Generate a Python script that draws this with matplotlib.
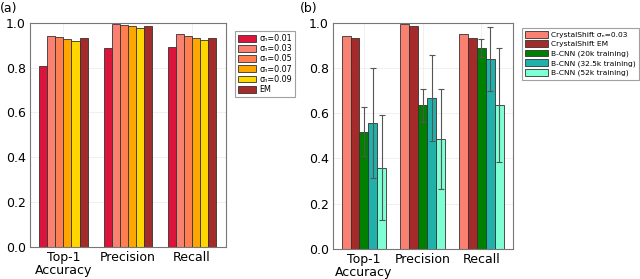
import numpy as np
import matplotlib
matplotlib.use("Agg")
import matplotlib.pyplot as plt

metrics = ["Top-1\nAccuracy", "Precision", "Recall"]

# Panel (a)
a_labels = ["σₙ=0.01", "σₙ=0.03", "σₙ=0.05", "σₙ=0.07", "σₙ=0.09", "EM"]
a_colors = ["#DC143C", "#FA8072", "#FF7F50", "#FFA500", "#FFD700", "#A52A2A"]
a_s001 = [0.806, 0.888, 0.893]
a_s003 = [0.943, 0.993, 0.951]
a_s005 = [0.936, 0.990, 0.940]
a_s007 = [0.928, 0.984, 0.933]
a_s009 = [0.921, 0.978, 0.925]
a_em = [0.931, 0.985, 0.934]
a_series = [a_s001, a_s003, a_s005, a_s007, a_s009, a_em]

# Panel (b)
b_labels = ["CrystalShift σₙ=0.03", "CrystalShift EM",
            "B-CNN (20k training)", "B-CNN (32.5k training)", "B-CNN (52k training)"]
b_colors = ["#FA8072", "#A52A2A", "#008000", "#20B2AA", "#7FFFD4"]
b_cs = [0.944, 0.993, 0.951]
b_em = [0.931, 0.985, 0.935]
b_20k = [0.519, 0.635, 0.887]
b_20k_err = [0.108, 0.073, 0.040]
b_32k = [0.557, 0.668, 0.841]
b_32k_err = [0.244, 0.190, 0.142]
b_52k = [0.360, 0.485, 0.637]
b_52k_err = [0.232, 0.221, 0.254]
b_series = [b_cs, b_em, b_20k, b_32k, b_52k]
b_errs = [None, None, b_20k_err, b_32k_err, b_52k_err]

fig = plt.figure(figsize=(6.4, 2.79), dpi=100)
ax1 = fig.add_axes([0.047, 0.115, 0.306, 0.803])
ax2 = fig.add_axes([0.520, 0.108, 0.281, 0.810])

def style(ax, xl):
    ax.set_ylim(0, 1.0)
    ax.set_xlim(*xl)
    ax.set_yticks([0, 0.2, 0.4, 0.6, 0.8, 1.0])
    ax.set_yticklabels(["0.0", "0.2", "0.4", "0.6", "0.8", "1.0"])
    ax.set_xticks(range(len(metrics)))
    ax.set_xticklabels(metrics, linespacing=1.0)
    ax.tick_params(length=0, labelsize=9, pad=3)
    ax.grid(True, color="#eeeeee", lw=0.6)
    ax.set_axisbelow(True)
    for s in ax.spines.values():
        s.set_color("#777777")
        s.set_linewidth(0.8)

x = np.arange(len(metrics))
n = len(a_series)
w = 0.75 / n
for i, (vals, c, lab) in enumerate(zip(a_series, a_colors, a_labels)):
    ax1.bar(x + (i - (n - 1) / 2) * w, vals, w, color=c, edgecolor="#333333",
            linewidth=0.6, label=lab)
style(ax1, (-0.52, 2.53))
leg1 = ax1.legend(loc="upper left", bbox_to_anchor=(1.045, 0.965), fontsize=5.8,
                  fancybox=False, edgecolor="#888888", handlelength=2.3,
                  handleheight=0.9, borderpad=0.4, labelspacing=0.15,
                  handletextpad=0.35, borderaxespad=0)
leg1.get_frame().set_linewidth(0.8)

n = len(b_series)
w = 0.76 / n
for i, (vals, c, lab, err) in enumerate(zip(b_series, b_colors, b_labels, b_errs)):
    ax2.bar(x + (i - (n - 1) / 2) * w, vals, w, color=c, edgecolor="#333333",
            linewidth=0.6, label=lab, yerr=err,
            error_kw=dict(ecolor="#555555", elinewidth=0.8, capsize=2, capthick=0.8))
style(ax2, (-0.53, 2.53))
leg2 = ax2.legend(loc="upper left", bbox_to_anchor=(1.05, 0.978), fontsize=5.4,
                  fancybox=False, edgecolor="#888888", handlelength=3.1,
                  handleheight=1.0, borderpad=0.45, labelspacing=0.3,
                  handletextpad=0.35, borderaxespad=0)
leg2.get_frame().set_linewidth(0.8)

fig.text(0.0, 0.993, "(a)", fontsize=9, va="top", ha="left")
fig.text(0.469, 0.993, "(b)", fontsize=9, va="top", ha="left")

fig.savefig("out.png", dpi=100)
